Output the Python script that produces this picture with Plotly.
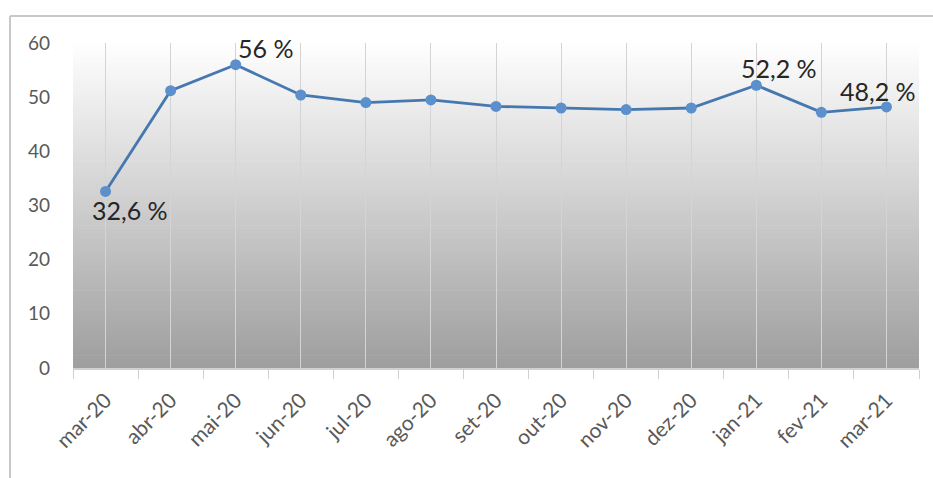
import plotly.graph_objects as go

months = ["mar-20", "abr-20", "mai-20", "jun-20", "jul-20", "ago-20", "set-20",
          "out-20", "nov-20", "dez-20", "jan-21", "fev-21", "mar-21"]
values = [32.6, 51.2, 56.0, 50.4, 49.0, 49.5, 48.3, 48.0, 47.7, 48.0, 52.2, 47.2, 48.2]
label_idx = [0, 2, 10, 12]
label_text = ["32,6 %", "56 %", "52,2 %", "48,2 %"]
label_shift = [(24, -19), (30, 17), (23, 17), (-8, 16)]
y_ticks = [0, 10, 20, 30, 40, 50, 60]

fig = go.Figure()

# gradient background of plot area
shapes = []
n = 80
top = (255, 255, 255)
bot = (158, 158, 158)
for i in range(n):
    t = (i + 0.5) / n
    c = tuple(round(top[k] + (bot[k] - top[k]) * t) for k in range(3))
    shapes.append(dict(type="rect", xref="x domain", yref="y domain",
                       x0=0, x1=1, y0=1 - (i + 1) / n, y1=1 - i / n + 0.002,
                       fillcolor="rgb(%d,%d,%d)" % c, line=dict(width=0), layer="below"))
# outer frame lines
shapes.append(dict(type="line", xref="paper", yref="paper",
                   x0=(10 - 73) / 846, x1=(940 - 73) / 846,
                   y0=(368 - 16) / 325, y1=(368 - 16) / 325,
                   line=dict(color="#c8c8c8", width=2)))
shapes.append(dict(type="line", xref="paper", yref="paper",
                   x0=(10 - 73) / 846, x1=(10 - 73) / 846,
                   y0=(368 - 16) / 325, y1=(368 - 490) / 325,
                   line=dict(color="#c8c8c8", width=2)))

# invisible trace on overlay axis for center gridlines
fig.add_trace(go.Scatter(x=months, y=values, xaxis="x2", mode="lines",
                         line=dict(width=0), hoverinfo="skip", showlegend=False))
fig.add_trace(go.Scatter(x=months, y=values, mode="lines+markers",
                         line=dict(color="#4678b0", width=2.8),
                         marker=dict(color="#5b90cc", size=11),
                         showlegend=False))

annotations = []
for i, txt, (dx, dy) in zip(label_idx, label_text, label_shift):
    annotations.append(dict(x=months[i], y=values[i], text=txt, showarrow=False,
                            xshift=dx, yshift=dy,
                            font=dict(family="Lato", size=25, color="#262626")))

fig.update_layout(
    width=933, height=478,
    margin=dict(l=73, r=14, t=43, b=110),
    paper_bgcolor="white", plot_bgcolor="rgba(0,0,0,0)",
    shapes=shapes, annotations=annotations,
    xaxis=dict(type="category", categoryorder="array", categoryarray=months,
               range=[-0.5, 12.5], tickson="boundaries", ticks="outside", ticklen=9,
               tickcolor="#d0d0d0", showgrid=False, showline=True, linecolor="#d0d0d0",
               linewidth=1.5, tickangle=-45, ticklabelstandoff=10,
               tickfont=dict(family="Lato", size=21, color="#595959"), zeroline=False),
    xaxis2=dict(type="category", categoryorder="array", categoryarray=months,
                range=[-0.5, 12.5], overlaying="x", showgrid=True, gridcolor="#d4d4d4",
                gridwidth=1, showticklabels=False, ticks="", showline=False, zeroline=False),
    yaxis=dict(range=[0, 60], tickvals=y_ticks, showgrid=False, zeroline=False,
               showline=False, ticks="", ticklabelstandoff=22,
               tickfont=dict(family="Lato", size=19, color="#595959")),
)

fig.write_html("out.html")
